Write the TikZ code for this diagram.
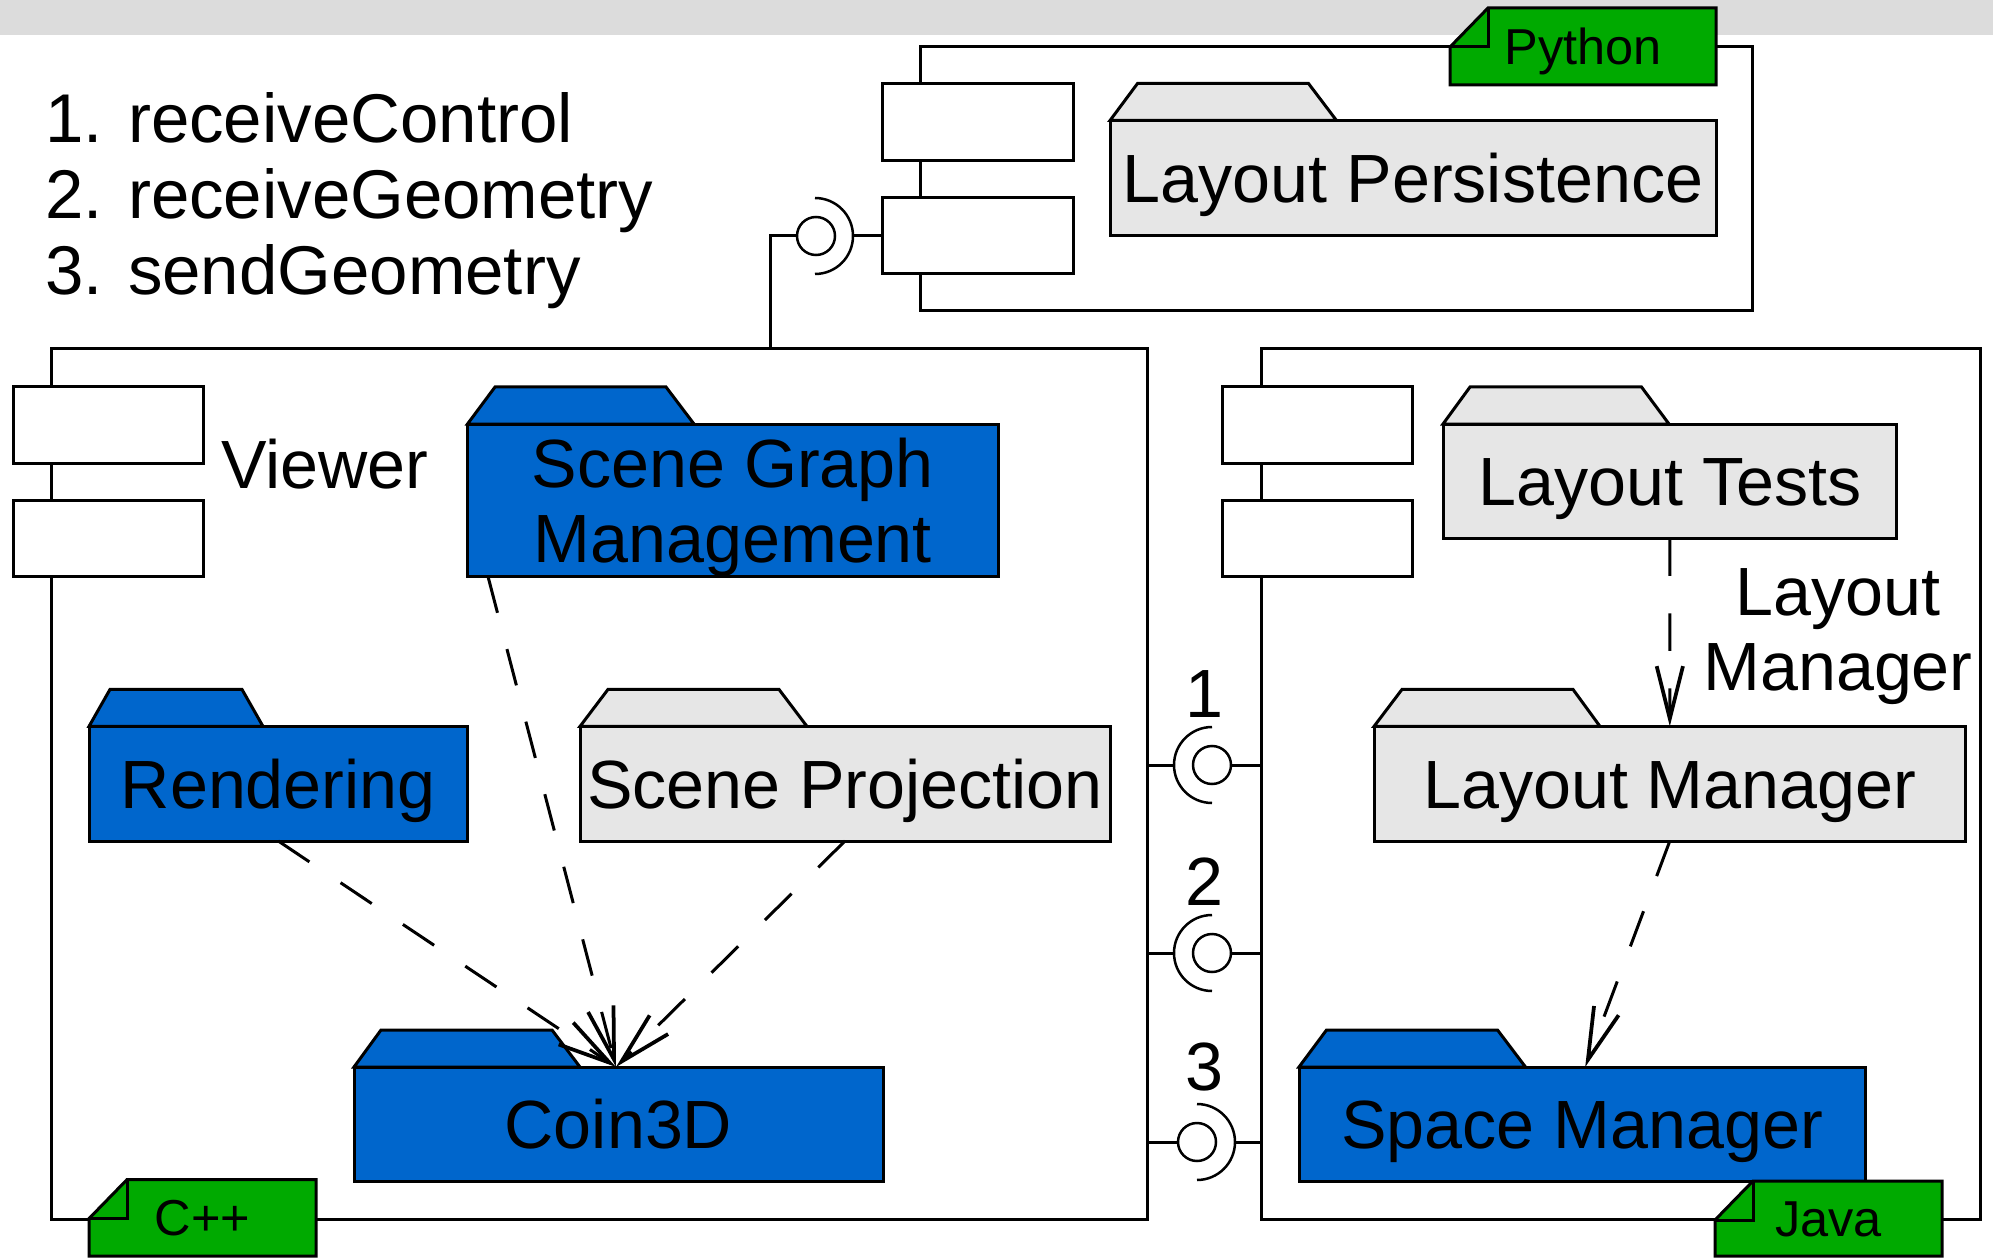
\documentclass[tikz,border=0pt]{standalone}
\usepackage{fontspec}
\setmainfont{Liberation Sans}
\usetikzlibrary{arrows.meta}
\definecolor{pblue}{HTML}{0066CC}
\definecolor{pgray}{HTML}{E6E6E6}
\definecolor{tgreen}{HTML}{00AA00}
\definecolor{bandgray}{HTML}{DCDCDC}
\newcommand\bigfnt{\fontsize{27.3pt}{30.1pt}\selectfont}
\newcommand\listfnt{\fontsize{27.6pt}{30.4pt}\selectfont}
\newcommand\tagfnt{\fontsize{20.2pt}{22pt}\selectfont}
% style, name, x0, y0, x1, y1, text
\newcommand\bx[7]{\node[#1, minimum width={(#5-#3)*0.4pt}, minimum height={(#6-#4)*0.4pt}] (#2) at ({(#3+#5)/2},{(#4+#6)/2}) {#7};}
% package tab: node, colour, a, b, c
\newcommand\pkgtab[5]{\filldraw[ol, fill=#2] (#1.north west) -- ++(#3,-37) -- ++(#4,0) -- ++(#5,37) -- cycle;}
% note tag: name, x0, y0, x1, y1, text
\newcommand\tagnote[6]{%
  \filldraw[ol, fill=tgreen] ({#2+38},#3) -- (#4,#3) -- (#4,#5) -- (#2,#5) -- (#2,{#3+39}) -- cycle;
  \draw[ol] (#2,{#3+39}) -- ({#2+38},{#3+39}) -- ({#2+38},#3);
  \bx{tagtext}{#1}{#2}{#3}{#4}{#5}{#6}}
\begin{document}
\begin{tikzpicture}[x=0.4pt,y=-0.4pt,
  ol/.style={draw=black,line width=1.2pt},
  pkg/.style={ol, rectangle, inner sep=0pt, outer sep=0pt, font=\bigfnt, text height=19.55pt, text depth=0pt},
  bluepkg/.style={pkg, fill=pblue},
  graypkg/.style={pkg, fill=pgray},
  comp/.style={ol, rectangle, fill=white, inner sep=0pt, outer sep=0pt},
  port/.style={comp},
  tagtext/.style={rectangle, inner sep=0pt, outer sep=0pt, font=\tagfnt, text height=14.5pt, text depth=0pt},
  ball/.style={circle, draw, line width=1pt, fill=white, minimum size=15.2pt, inner sep=0pt, outer sep=0pt},
  sock/.style={line width=1pt},
  dep/.style={line width=1.2pt, dash pattern=on 15pt off 15pt, -{Straight Barb[length=21pt,width=10.5pt,line width=1.5pt]}},
  lbl/.style={font=\bigfnt, inner sep=0pt, outer sep=0pt},
]
\useasboundingbox (0,0) rectangle (1993,1258);
\fill[bandgray] (0,0) rectangle (1993,35);

% Python component
\bx{comp}{pycomp}{920}{47}{1752}{311}{}
\bx{port}{pyr1}{882}{84}{1073}{161}{}
\bx{port}{pyr2}{882}{198}{1073}{274}{}
\bx{graypkg}{lp}{1110}{120.5}{1716}{236}{Layout Persistence}
\pkgtab{lp}{pgray}{27.5}{171}{28}

% Viewer component
\bx{comp}{viewer}{51}{349}{1147}{1219}{}
\bx{port}{vr1}{13}{386.5}{203}{463}{}
\bx{port}{vr2}{13}{500}{203}{576.5}{}
\node[lbl, anchor=base] (viewerlbl) at (325,488) {Viewer};
\bx{bluepkg, align=center, text height=49.65pt}{sgm}{467.5}{424}{998}{576.5}{Scene Graph\\Management}
\pkgtab{sgm}{pblue}{27.5}{171}{28}
\bx{bluepkg}{rend}{89}{726.4}{467.5}{841}{Rendering}
\pkgtab{rend}{pblue}{21}{132}{21}
\bx{graypkg}{sp}{580}{726.4}{1110}{841}{Scene Projection}
\pkgtab{sp}{pgray}{28}{171}{28}
\bx{bluepkg}{coin}{354}{1067}{883}{1181}{Coin3D}
\pkgtab{coin}{pblue}{27}{171}{28}

% Java component
\bx{comp}{java}{1261}{349}{1980}{1219}{}
\bx{port}{jr1}{1222.6}{386.5}{1412.6}{463}{}
\bx{port}{jr2}{1222.6}{500}{1412.6}{576.5}{}
\bx{graypkg}{lt}{1443}{424}{1896.7}{538.4}{Layout Tests}
\pkgtab{lt}{pgray}{27}{171.5}{27.5}
\bx{graypkg}{lm}{1374}{726.4}{1965.6}{841}{Layout Manager}
\pkgtab{lm}{pgray}{28}{171}{27}
\bx{bluepkg}{sm}{1299}{1067}{1865.4}{1181}{Space Manager}
\pkgtab{sm}{pblue}{27.5}{171}{28}
\node[lbl, align=center, text height=49.65pt, text depth=0pt] (lmlbl) at (1838,628.2) {Layout\\Manager};

% dependencies
\draw[dep] ([xshift=8.2pt]sgm.south west) -- ([xshift=-1pt]coin.north);
\draw[dep] (rend.south) -- ([xshift=-1pt]coin.north);
\draw[dep] (sp.south) -- ([xshift=-1pt]coin.north);
\draw[dep] (lt.south) -- (lm.north);
\draw[dep] (lm.south) -- ([xshift=1.2pt]sm.north);

% Python lollipop
\node[ball] (pb) at (816,236) {};
\coordinate (ps) at (815,236);
\draw[sock] ([yshift=15.2pt]ps) arc[start angle=90,end angle=-90,radius=15.2pt];
\draw[ol] ([xshift=15.2pt]ps) -- (pyr2.west);
\draw[ol] (pb.west) -| ([xshift=68.4pt]viewer.north);

% interface 1
\node[ball] (b1) at (1212,765) {};
\coordinate (s1) at (1212,765);
\draw[sock] ([yshift=15.2pt]s1) arc[start angle=90,end angle=270,radius=15.2pt];
\draw[ol] (viewer.east |- s1) -- ([xshift=-15.2pt]s1);
\draw[ol] (b1.east) -- (java.west |- b1);
\node[lbl, anchor=base] (n1) at (1204,717) {1};
% interface 2
\node[ball] (b2) at (1212,953) {};
\coordinate (s2) at (1212,953);
\draw[sock] ([yshift=15.2pt]s2) arc[start angle=90,end angle=270,radius=15.2pt];
\draw[ol] (viewer.east |- s2) -- ([xshift=-15.2pt]s2);
\draw[ol] (b2.east) -- (java.west |- b2);
\node[lbl, anchor=base] (n2) at (1204,905) {2};
% interface 3
\node[ball] (b3) at (1197,1142) {};
\coordinate (s3) at (1197,1142);
\draw[sock] ([yshift=15.2pt]s3) arc[start angle=90,end angle=-90,radius=15.2pt];
\draw[ol] (viewer.east |- b3) -- (b3.west);
\draw[ol] ([xshift=15.2pt]s3) -- (java.west |- s3);
\node[lbl, anchor=base] (n3) at (1204,1090) {3};

% operation list
\node[lbl, font=\listfnt, anchor=north west, align=left, text height=80.6pt, text depth=0pt] (ops) at (45,93.4) {1. receiveControl\\2. receiveGeometry\\3. sendGeometry};

% language tags
\tagnote{pytag}{1450}{8}{1716}{85}{Python}
\tagnote{cpptag}{89}{1179.6}{316}{1256}{C++}
\tagnote{javatag}{1715}{1181}{1942}{1256}{Java}
\end{tikzpicture}
\end{document}
